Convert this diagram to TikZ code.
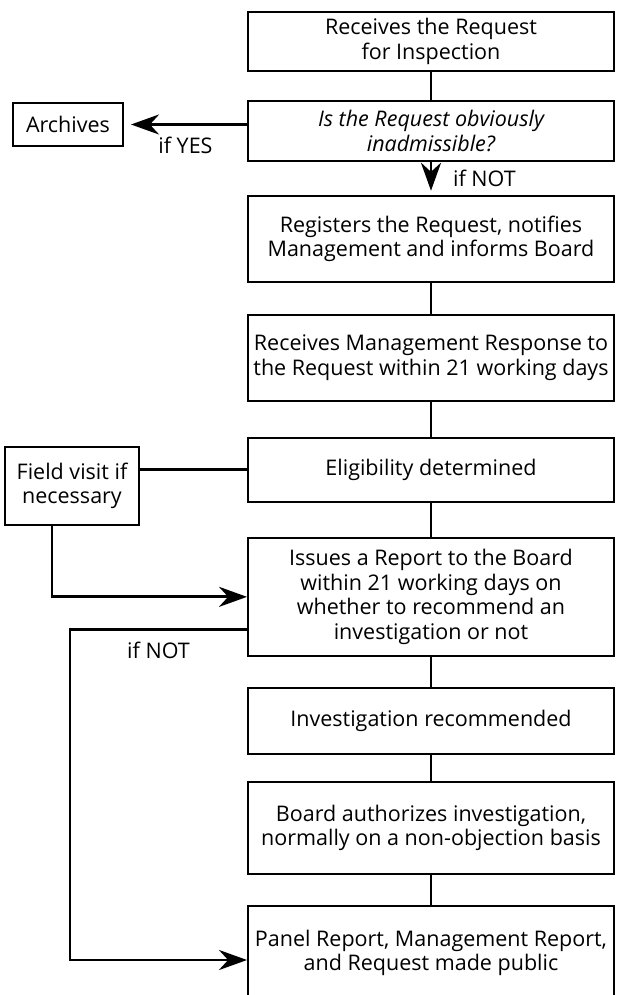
\documentclass[tikz,border=0pt]{standalone}
\usepackage{fontspec}
\setmainfont{Open Sans}
\usetikzlibrary{arrows.meta,positioning}

\begin{document}
\begin{tikzpicture}[->,>={Stealth[length=7mm,width=5mm]},line width=2.1pt,
  node distance=0.8cm,font=\fontsize{15.3}{17.5}\selectfont]
  \tikzstyle{box}=[draw,line width=1.4pt,align=center,minimum width=9.15cm,inner sep=2pt]
  \tikzstyle{sidebox}=[draw,line width=1.4pt,align=center,inner sep=2pt]

  \useasboundingbox (0,0) rectangle (15.4,-24.875);

  \node[box,minimum height=1.475cm] (B1) at (10.775,-1.0375) {Receives the Request\\for Inspection};
  \node[box,minimum height=1.5cm]   (B2) [below=0.7cm of B1]   {\itshape Is the Request obviously\\\itshape inadmissible?};
  \node[box,minimum height=2.15cm]  (B3) [below=0.825cm of B2] {Registers the Request, notifies\\Management and informs Board};
  \node[box,minimum height=2.15cm]  (B4) [below=0.775cm of B3] {Receives Management Response to\\the Request within 21 working days};
  \node[box,minimum height=1.6cm]   (B5) [below=0.875cm of B4] {Eligibility determined};
  \node[box,minimum height=2.95cm]  (B6) [below=0.85cm of B5]  {Issues a Report to the Board\\within 21 working days on\\whether to recommend an\\investigation or not};
  \node[box,minimum height=1.65cm]  (B7) [below=0.75cm of B6]  {Investigation recommended};
  \node[box,minimum height=2.3cm]   (B8) [below=0.65cm of B7]  {Board authorizes investigation,\\normally on a non-objection basis};
  \node[box,minimum height=2.35cm]  (B9) [below=0.75cm of B8]  {Panel Report, Management Report,\\and Request made public};

  \node[sidebox,minimum width=2.75cm,minimum height=1.075cm] (Arch)  at (1.7,-3.1125) {Archives};
  \node[sidebox,minimum width=3.35cm,minimum height=1.95cm]  (Field) at (1.8,-12.15)  {Field visit if\\necessary};
  \coordinate (loop) at (1.75,-24);

  \path (B1) edge[-] (B2)
        (B2) edge[shorten >=3pt] node[right=0.4cm] {if NOT} (B3)
        (Arch -| B2.west) edge[shorten >=5pt] node[below=0.15cm] {if YES} (Arch)
        (B3) edge[-] (B4)
        (B4) edge[-] (B5)
        (B5) edge[-] (B6)
        (B6) edge[-] (B7)
        (B7) edge[-] (B8)
        (B8) edge[-] (B9)
        ;

  \draw[-] (Field.east |- B5.west) -- (B5.west);
  \draw ([xshift=-0.5cm]Field.south) |- (B6.west);
  \draw ([yshift=0.68cm]B6.south west) -| node[pos=0.25,below=0.15cm] {if NOT} (loop)
        -- (loop -| B9.west);
\end{tikzpicture}
\end{document}
